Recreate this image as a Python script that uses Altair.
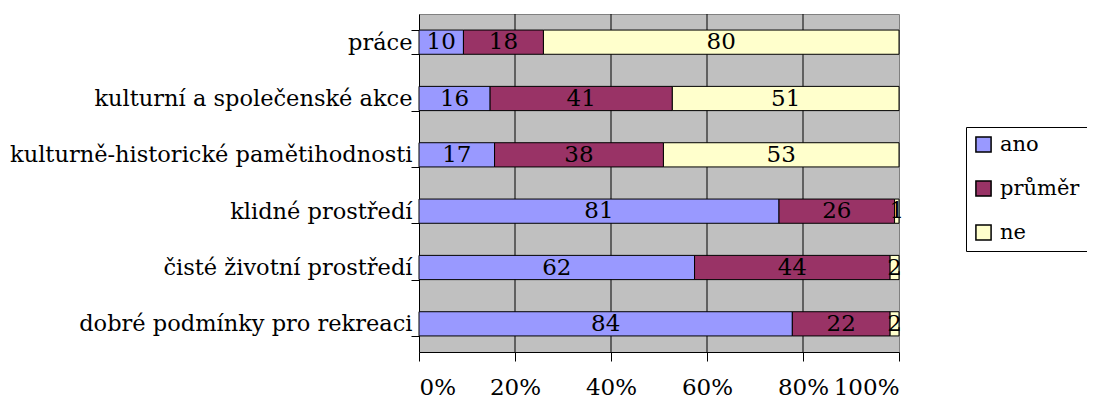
import altair as alt
import pandas as pd

categories = [
    "práce",
    "kulturní a společenské akce",
    "kulturně-historické pamětihodnosti",
    "klidné prostředí",
    "čisté životní prostředí",
    "dobré podmínky pro rekreaci",
]
series = ["ano", "průměr", "ne"]
ano = [10, 16, 17, 81, 62, 84]
prumer = [18, 41, 38, 26, 44, 22]
ne = [80, 51, 53, 1, 2, 2]
x_ticks = [0, 0.2, 0.4, 0.6, 0.8, 1.0]
grid_values = [0.2, 0.4, 0.6, 0.8]
colors = ["#9999FF", "#993366", "#FFFFCC"]

FONT = "DejaVu Serif"
FS = 23
FS_Y = 22.5
FS_LEG = 21

rows = []
for i, c in enumerate(categories):
    for j, (s, vals) in enumerate(zip(series, [ano, prumer, ne])):
        rows.append({"cat": c, "series": s, "order": j, "value": vals[i]})
df = pd.DataFrame(rows)

y_enc = alt.Y(
    "cat:N",
    sort=categories,
    scale=alt.Scale(paddingInner=0.57, paddingOuter=0.285),
    axis=alt.Axis(
        title=None,
        tickBand="extent",
        tickSize=8,
        tickColor="black",
        domainColor="black",
        labelFont=FONT,
        labelFontSize=FS_Y,
        labelColor="black",
        labelPadding=-1,
        labelLimit=1000,
    ),
)

x_scale = alt.Scale(domain=[0, 1], nice=False)

base = alt.Chart(df).transform_stack(
    stack="value",
    groupby=["cat"],
    as_=["x0", "x1"],
    offset="normalize",
    sort=[alt.SortField("order")],
).transform_calculate(mid="(datum.x0 + datum.x1) / 2")

bars = base.mark_bar(stroke="black", strokeWidth=1).encode(
    x=alt.X(
        "x0:Q",
        scale=x_scale,
        axis=alt.Axis(
            title=None,
            values=x_ticks,
            format=".0%",
            grid=False,
            tickSize=9,
            tickColor="black",
            domainColor="black",
            labelFont=FONT,
            labelFontSize=FS,
            labelColor="black",
            labelPadding=15,
            labelOverlap=False,
        ),
    ),
    x2="x1:Q",
    y=y_enc,
    color=alt.Color(
        "series:N",
        scale=alt.Scale(domain=series, range=colors),
        sort=series,
        legend=alt.Legend(
            title=None,
            orient="none",
            legendX=547,
            legendY=113,
            symbolType="square",
            symbolSize=230,
            symbolStrokeColor="black",
            symbolStrokeWidth=1.5,
            symbolOpacity=1,
            labelFont=FONT,
            labelFontSize=FS_LEG,
            labelColor="black",
            labelOffset=6,
            rowPadding=21,
            padding=7,
            strokeColor="black",
            fillColor="white",
        ),
    ),
    order=alt.Order("order:Q"),
)

labels = base.mark_text(
    font=FONT, fontSize=FS, color="black", baseline="middle", align="center"
).encode(
    x=alt.X("mid:Q", scale=x_scale),
    y=alt.Y("cat:N", sort=categories),
    text="value:Q",
)

grid = alt.Chart(pd.DataFrame({"g": grid_values})).mark_rule(
    color="black", strokeWidth=1
).encode(x=alt.X("g:Q", scale=x_scale))

chart = (
    alt.layer(grid, bars, labels)
    .properties(
        width=480,
        height=338,
        autosize=alt.AutoSizeParams(type="none"),
        padding={"left": 411, "top": 6, "right": 188, "bottom": 48},
        background="white",
    )
    .configure_view(stroke="#808080", fill="#C0C0C0", strokeWidth=1)
)

chart.save("out.html", embed_options={"renderer": "svg", "actions": False})
